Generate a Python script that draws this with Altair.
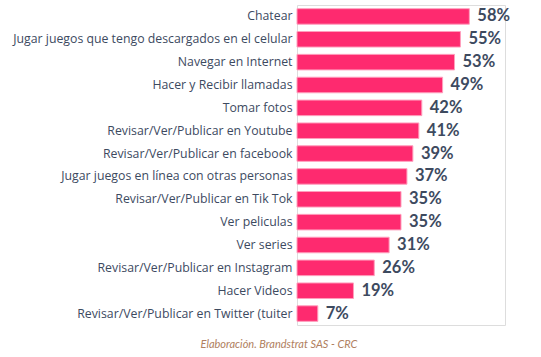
import altair as alt
import pandas as pd

categories = [
    "Chatear",
    "Jugar juegos que tengo descargados en el celular",
    "Navegar en Internet",
    "Hacer y Recibir llamadas",
    "Tomar fotos",
    "Revisar/Ver/Publicar en Youtube",
    "Revisar/Ver/Publicar en facebook",
    "Jugar juegos en línea con otras personas",
    "Revisar/Ver/Publicar en Tik Tok",
    "Ver peliculas",
    "Ver series",
    "Revisar/Ver/Publicar en Instagram",
    "Hacer Videos",
    "Revisar/Ver/Publicar en Twitter (tuiter",
]
values = [58, 55, 53, 49, 42, 41, 39, 37, 35, 35, 31, 26, 19, 7]
caption = "Elaboración. Brandstrat SAS - CRC"

df = pd.DataFrame({"cat": categories, "val": values})
df["label"] = df["val"].astype(str) + "%"

FONT = "Lato"
TEXT = "#3d4a5f"

base = alt.Chart(df).encode(
    y=alt.Y("cat:N", sort=categories, title=None,
            scale=alt.Scale(paddingInner=0.32, paddingOuter=0.16),
            axis=alt.Axis(domain=False, ticks=False, labelPadding=5,
                          labelFontSize=12.3, labelFont="Open Sans", labelColor=TEXT,
                          labelLimit=400)),
    x=alt.X("val:Q", title=None, scale=alt.Scale(domain=[0, 70]), axis=None),
)

bars = base.mark_bar(color="#fe2a6f", stroke="#ff9fbd", strokeWidth=1)
labels = base.mark_text(align="left", dx=8, font=FONT, fontSize=16.5,
                        fontWeight="bold", color=TEXT).encode(text="label:N")

chart = (bars + labels).properties(
    width=208, height=320,
    title=alt.TitleParams(caption, orient="bottom", anchor="middle", dx=-122,
                          offset=14, font=FONT, fontSize=11, fontStyle="italic",
                          fontWeight="normal", color="#b08060"),
    autosize=alt.AutoSizeParams(type="none"),
    padding={"left": 297, "top": 5, "right": 36, "bottom": 32},
).configure_view(stroke=None).configure(background="white")

chart.save("out.html", embed_options={"renderer": "svg", "actions": False})
